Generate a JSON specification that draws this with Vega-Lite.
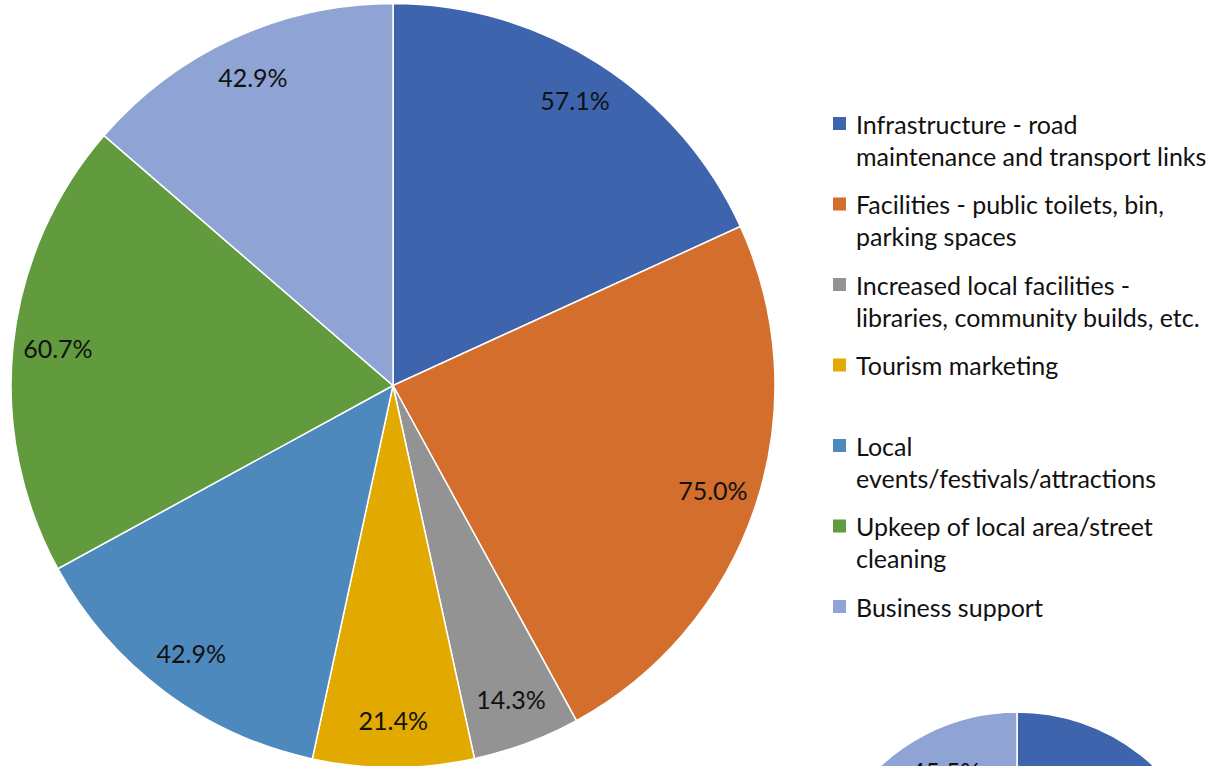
{
  "$schema": "https://vega.github.io/schema/vega-lite/v6.json",
  "padding": 0,
  "autosize": {"type": "pad"},
  "spacing": 0,
  "bounds": "flush",
  "config": {
    "view": {"stroke": null},
    "font": "Lato",
    "style": {"guide-label": {"lineHeight": 32, "dy": -10}}
  },
  "datasets": {
    "pieA": [
      {"cat": "Infrastructure - road|maintenance and transport links", "idx": 1, "share": 0.571},
      {"cat": "Facilities - public toilets, bin,|parking spaces", "idx": 2, "share": 0.75},
      {"cat": "Increased local facilities -|libraries, community builds, etc.", "idx": 3, "share": 0.143},
      {"cat": "Tourism marketing", "idx": 4, "share": 0.214},
      {"cat": "Local|events/festivals/attractions", "idx": 5, "share": 0.429},
      {"cat": "Upkeep of local area/street|cleaning", "idx": 6, "share": 0.607},
      {"cat": "Business support", "idx": 7, "share": 0.429}
    ],
    "pieB": [
      {"cat": "Infrastructure - road|maintenance and transport links", "idx": 1, "share": 0.636},
      {"cat": "Facilities - public toilets, bin,|parking spaces", "idx": 2, "share": 0.545},
      {"cat": "Increased local facilities -|libraries, community builds, etc.", "idx": 3, "share": 0.182},
      {"cat": "Tourism marketing", "idx": 4, "share": 0.273},
      {"cat": "Local|events/festivals/attractions", "idx": 5, "share": 0.455},
      {"cat": "Upkeep of local area/street|cleaning", "idx": 6, "share": 0.455},
      {"cat": "Business support", "idx": 7, "share": 0.455}
    ]
  },
  "resolve": {"legend": {"color": "independent"}},
  "hconcat": [
    {
      "width": 786,
      "height": 771,
      "data": {"name": "pieA"},
      "encoding": {
        "theta": {"field": "share", "type": "quantitative", "stack": true},
        "order": {"field": "idx", "type": "quantitative", "sort": "ascending"},
        "color": {
          "field": "cat", "type": "nominal",
          "scale": {
            "domain": ["Infrastructure - road|maintenance and transport links", "Facilities - public toilets, bin,|parking spaces", "Increased local facilities -|libraries, community builds, etc.", "Tourism marketing", "Local|events/festivals/attractions", "Upkeep of local area/street|cleaning", "Business support"],
            "range": ["#3E64AD", "#D36E2D", "#939393", "#E2AA00", "#4E89BE", "#629A3E", "#8FA3D4"]
          },
          "legend": null
        }
      },
      "layer": [
        {"mark": {"type": "arc", "outerRadius": 382, "stroke": "#ffffff", "strokeWidth": 1.5}},
        {
          "mark": {"type": "text", "radius": 337, "font": "Lato", "fontSize": 25, "fill": "#111111"},
          "encoding": {
            "text": {"field": "share", "type": "quantitative", "format": ".1%"},
            "color": {"value": "#111111"}
          }
        }
      ]
    },
    {
      "width": 462,
      "height": 1824,
      "data": {"name": "pieB"},
      "encoding": {
        "theta": {"field": "share", "type": "quantitative", "stack": true},
        "order": {"field": "idx", "type": "quantitative", "sort": "ascending"},
        "color": {
          "field": "cat", "type": "nominal",
          "scale": {
            "domain": ["Infrastructure - road|maintenance and transport links", "Facilities - public toilets, bin,|parking spaces", "Increased local facilities -|libraries, community builds, etc.", "Tourism marketing", "Local|events/festivals/attractions", "Upkeep of local area/street|cleaning", "Business support"],
            "range": ["#3E64AD", "#D36E2D", "#939393", "#E2AA00", "#4E89BE", "#629A3E", "#8FA3D4"]
          },
          "legend": {
            "title": null,
            "orient": "none",
            "legendX": 41,
            "legendY": 111,
            "padding": 0,
            "columns": 1,
            "gridAlign": "all",
            "rowPadding": 20.5,
            "symbolType": "square",
            "symbolSize": 169,
            "symbolStrokeWidth": 0,
            "symbolOpacity": 1,
            "labelFont": "Lato",
            "labelFontSize": 25,
            "labelColor": "#111111",
            "labelLimit": 600,
            "labelOffset": 4,
            "labelBaseline": "top",
            "labelExpr": "split(datum.label, '|')"
          }
        }
      },
      "layer": [
        {"mark": {"type": "arc", "outerRadius": 200, "stroke": "#ffffff", "strokeWidth": 1.5}},
        {
          "mark": {"type": "text", "radius": 156, "font": "Lato", "fontSize": 25, "fill": "#111111"},
          "encoding": {
            "text": {"field": "share", "type": "quantitative", "format": ".1%"},
            "color": {"value": "#111111"}
          }
        }
      ]
    }
  ]
}
